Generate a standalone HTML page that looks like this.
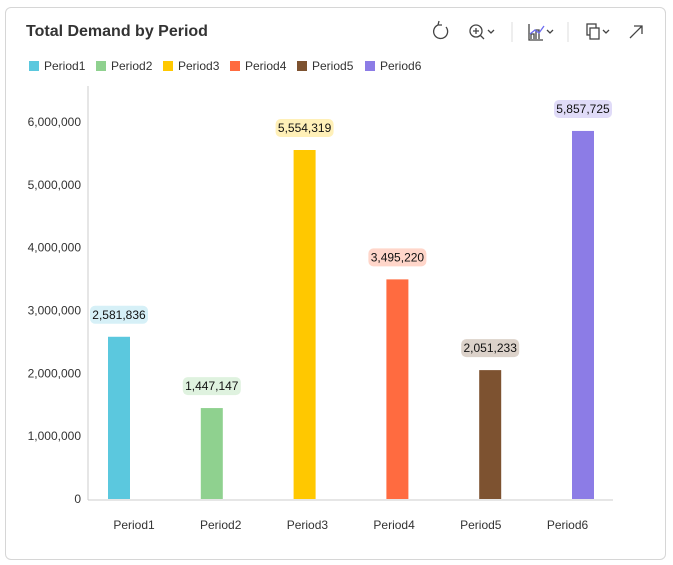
<!DOCTYPE html>
<html><head><meta charset="utf-8"><style>
body{margin:0;background:#fff;font-family:"Liberation Sans",sans-serif;}
.card{position:absolute;left:5px;top:7px;width:659px;height:551px;border:1px solid #d6d6d6;border-radius:6px;background:#fff;}
.title{position:absolute;left:26px;top:23px;font-size:16px;font-weight:bold;color:#333;}
.leg{position:absolute;top:59px;font-size:12px;color:#333;display:flex;align-items:center;}
.leg i{display:inline-block;width:10px;height:10px;margin-right:5px;}
</style></head><body>
<div class="card"></div>
<div class="title">Total Demand by Period</div>
<div id="legend"></div>
<svg width="673" height="565" style="position:absolute;left:0;top:0" id="svg">
<g fill="none" stroke="#444" stroke-width="1.3">
<path d="M438 25 A7 7 0 1 0 446 27 M438 25 l1 -4 M438 25 l4 0"/>
<g><circle cx="476" cy="31" r="6"/><path d="M480 35 l4 4 M473 31 h6 M476 28 v6 M488 30 l3 3 3-3"/></g>
<line x1="512" y1="22" x2="512" y2="42" stroke="#e5e5e5"/>
<g><path d="M529 24 v16 h14 M531 39 v-5 h3 v5 M536 39 v-9 h3 v9"/><path d="M530 34 l5 -4 4 3 5 -7" stroke="#6b6bf0"/><path d="M547 30 l3 3 3-3"/></g>
<line x1="568" y1="22" x2="568" y2="42" stroke="#e5e5e5"/>
<g><rect x="587" y="24" width="9" height="11"/><rect x="590" y="28" width="9" height="11" fill="#fff"/><path d="M603 30 l3 3 3-3"/></g>
<path d="M630 38 L642 26 M634 26 h8 v8"/>
</g>
</svg>
<script>
const categories=["Period1","Period2","Period3","Period4","Period5","Period6"];
const values=[2581836,1447147,5554319,3495220,2051233,5857725];
const colors=["#5bc8de","#8fd18f","#ffc800","#ff6b40","#7d5230","#8c7ce6"];
const pillColors=["#d6f0f7","#dff2df","#fff0b8","#ffd6ca","#dcd2ca","#e0dbf8"];
const yTicks=[0,1000000,2000000,3000000,4000000,5000000,6000000];
const svg=document.getElementById('svg');const NS="http://www.w3.org/2000/svg";
const y=v=>499-v*(377/6000000);
const barX=i=>119+i*92.8;
const labX=i=>134+i*86.7;
function el(t,a,p){const e=document.createElementNS(NS,t);for(const k in a)e.setAttribute(k,a[k]);(p||svg).appendChild(e);return e;}
const fmt=v=>v.toLocaleString('en-US');
let ax=el('line',{x1:88,y1:86,x2:88,y2:500,stroke:'#ccc'});


let bx=el('line',{x1:88,y1:500,x2:613,y2:500,stroke:'#ccc'});


yTicks.forEach(v=>{const t=el('text',{x:81,y:y(v)+4,'text-anchor':'end','font-size':12,fill:'#333'});t.textContent=fmt(v);

});
categories.forEach((c,i)=>{
const r=el('rect',{x:barX(i)-11,y:y(values[i]),width:22,height:499-y(values[i]),fill:colors[i]});


const py=y(values[i])-22;
const p=el('rect',{x:barX(i)-29,y:py-9,width:58,height:18,rx:5,fill:pillColors[i]});


const t=el('text',{x:barX(i),y:py+4,'text-anchor':'middle','font-size':12,fill:'#111'});t.textContent=fmt(values[i]);


const xl=el('text',{x:labX(i),y:529,'text-anchor':'middle','font-size':12,fill:'#333'});xl.textContent=c;


});
const lg=document.getElementById('legend');
const lx=[29,96,163,230,297,365];
categories.forEach((c,i)=>{const d=document.createElement('div');d.className='leg';d.style.left=lx[i]+'px';
d.innerHTML='<i style="background:'+colors[i]+'"></i>'+c;


lg.appendChild(d);});
</script>
</body></html>
